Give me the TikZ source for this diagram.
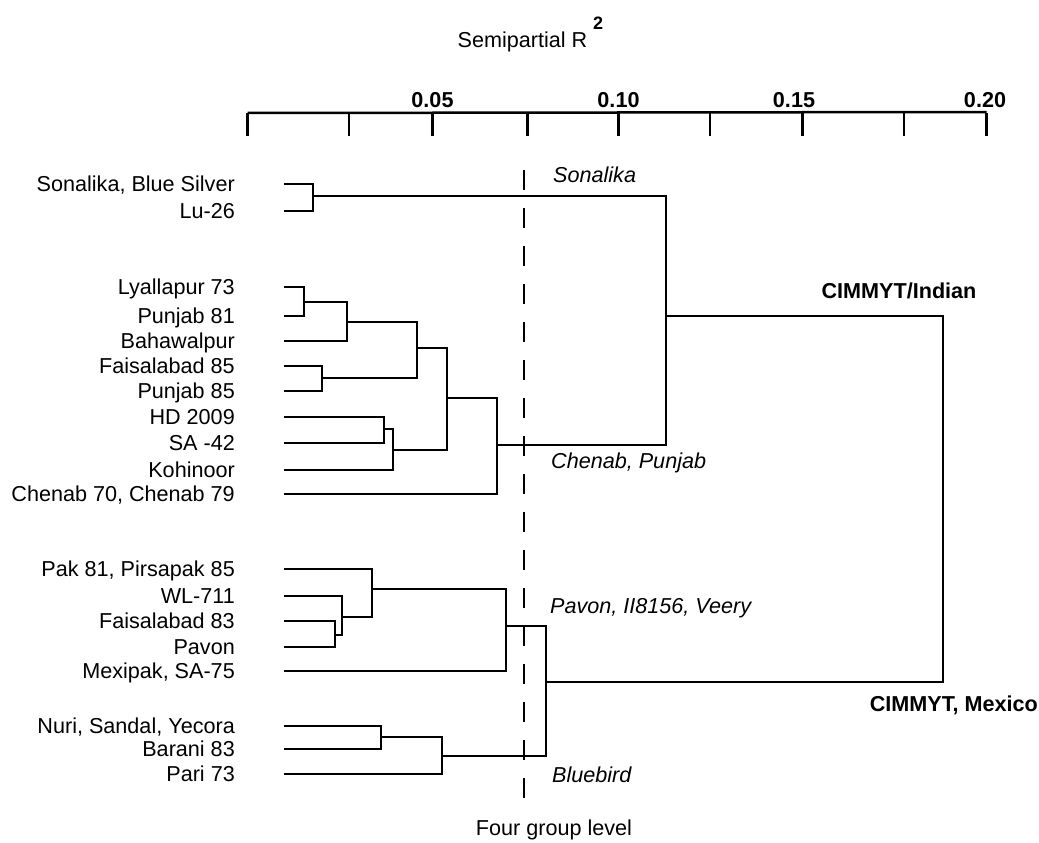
\documentclass[tikz,border=0pt]{standalone}
\usepackage{fontspec}
\setmainfont{Liberation Sans}
\begin{document}
\begin{tikzpicture}[x=1pt,y=-1pt,
  every node/.style={inner sep=0pt, font=\fontsize{21.6}{25}\selectfont},
  leaf/.style={anchor=east, text height=15pt, text depth=4pt},
  grp/.style={anchor=west, font=\fontsize{21.6}{25}\selectfont\itshape},
  big/.style={font=\fontsize{21.6}{25}\selectfont\bfseries},
  tick/.style={font=\fontsize{21.6}{25}\selectfont\bfseries},
  tree/.style={line width=2.5pt, line cap=rect, line join=miter},
  axisline/.style={line width=2.5pt},
  cutline/.style={line width=2.5pt, dash pattern=on 20pt off 18pt}]
\useasboundingbox (0,0) rectangle (1039,843);
\fill[white] (0,0) rectangle (1039,843);

% axis
\node (title) at (522.5,42) {Semipartial R};
\node[font=\fontsize{18}{20}\selectfont\bfseries] (sup) at (598,23) {2};
\coordinate (a0) at (247.5,113);
\coordinate (a1) at (986.5,112);
\draw[axisline] (a0) -- (a1);
\foreach \x in {247.5,349,432.5,527.5,618.5,710,802.5,904,986.5}
  \draw[axisline] (\x,113) -- (\x,136);
\node[tick] (t05) at (432.5,100) {0.05};
\node[tick] (t10) at (618.5,100) {0.10};
\node[tick] (t15) at (794,100) {0.15};
\node[tick] (t20) at (985,100) {0.20};

% leaves: coordinates and labels
\foreach \n/\y/\t in {
  s1/184/{Sonalika, Blue Silver}, s2/211/{Lu-26},
  l1/287/{Lyallapur 73}, l2/316/{Punjab 81}, l3/341/{Bahawalpur},
  l4/366/{Faisalabad 85}, l5/391/{Punjab 85}, l6/417/{HD 2009},
  l7/443/{SA -42}, l8/470/{Kohinoor}, l9/494/{Chenab 70, Chenab 79},
  m1/569/{Pak 81, Pirsapak 85}, m2/596/{WL-711}, m3/621/{Faisalabad 83},
  m4/647/{Pavon}, m5/671/{Mexipak, SA-75},
  n1/726/{Nuri, Sandal, Yecora}, n2/749/{Barani 83}, n3/774/{Pari 73}}{
  \coordinate (\n) at (285,\y);
  \node[leaf] (lab\n) at (235,\y+2) {\t};
}

% join points
\coordinate (jS) at (313,196);
\coordinate (j1) at (304,302);
\coordinate (j2) at (347,322);
\coordinate (j3) at (322,378);
\coordinate (j4) at (417,348);
\coordinate (j5) at (384,429);
\coordinate (j6) at (393,450);
\coordinate (j7) at (447,398);
\coordinate (j8) at (497,445);
\coordinate (j9) at (666,316);
\coordinate (k1) at (335,635);
\coordinate (k2) at (342,617);
\coordinate (k3) at (372,589);
\coordinate (k4) at (506,626);
\coordinate (k5) at (381,737);
\coordinate (k6) at (442,756);
\coordinate (k7) at (546,682);
\coordinate (root) at (943,316);

\draw[tree] (s1) -| (jS); \draw[tree] (s2) -| (jS);
\draw[tree] (l1) -| (j1); \draw[tree] (l2) -| (j1);
\draw[tree] (j1) -| (j2); \draw[tree] (l3) -| (j2);
\draw[tree] (l4) -| (j3); \draw[tree] (l5) -| (j3);
\draw[tree] (j2) -| (j4); \draw[tree] (j3) -| (j4);
\draw[tree] (l6) -| (j5); \draw[tree] (l7) -| (j5);
\draw[tree] (j5) -| (j6); \draw[tree] (l8) -| (j6);
\draw[tree] (j4) -| (j7); \draw[tree] (j6) -| (j7);
\draw[tree] (j7) -| (j8); \draw[tree] (l9) -| (j8);
\draw[tree] (jS) -| (j9); \draw[tree] (j8) -| (j9);
\draw[tree] (m3) -| (k1); \draw[tree] (m4) -| (k1);
\draw[tree] (m2) -| (k2); \draw[tree] (k1) -| (k2);
\draw[tree] (m1) -| (k3); \draw[tree] (k2) -| (k3);
\draw[tree] (k3) -| (k4); \draw[tree] (m5) -| (k4);
\draw[tree] (n1) -| (k5); \draw[tree] (n2) -| (k5);
\draw[tree] (k5) -| (k6); \draw[tree] (n3) -| (k6);
\draw[tree] (k4) -| (k7); \draw[tree] (k6) -| (k7);
\draw[tree] (j9) -| (root); \draw[tree] (k7) -| (root);

% four group level cut
\coordinate (ctop) at (524,170);
\coordinate (cbot) at (524,805);
\draw[cutline] (ctop) -- (cbot);
\node (four) at (554,830) {Four group level};

% group labels
\node[grp] (gson) at (553,175) {Sonalika};
\node[grp] (gche) at (551,463) {Chenab, Punjab};
\node[grp] (gpav) at (550,608) {Pavon, II8156, Veery};
\node[grp] (gblu) at (552,775) {Bluebird};
\node[big] (gind) at (899,291) {CIMMYT/Indian};
\node[big, anchor=east] (gmex) at (1038,705) {CIMMYT, Mexico};
\end{tikzpicture}
\end{document}
